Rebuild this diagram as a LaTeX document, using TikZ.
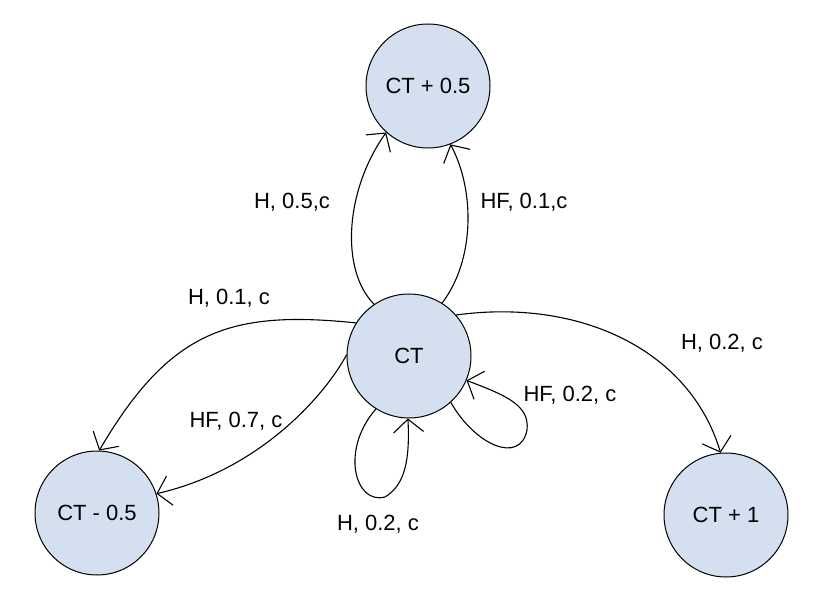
\documentclass[tikz,border=0pt]{standalone}
\usepackage{fontspec}
\setmainfont{Liberation Sans}
\usetikzlibrary{arrows.meta}
\definecolor{statefill}{RGB}{212,224,240}
\tikzset{
  state/.style={circle, draw=black, line width=1pt, fill=statefill, minimum size=124pt, inner sep=0pt, font=\fontsize{22}{25}\selectfont},
  lbl/.style={font=\fontsize{22}{25}\selectfont, inner sep=0pt},
  conn/.style={line width=1.1pt, line cap=round, -{Straight Barb[length=13pt,width=30pt,line width=1.1pt]}}
}
\begin{document}
\begin{tikzpicture}[x=1pt,y=-1pt]
\useasboundingbox (0,0) rectangle (822,612);
\node[state] (top) at (428,86) {CT + 0.5};
\node[state] (ct) at (409,356) {CT};
\node[state] (left) at (97,513) {CT - 0.5};
\node[state] (right) at (726,515) {CT + 1};

\draw[conn] (ct.124) .. controls (340,270) and (345,190) .. (top.-132);
\draw[conn] (ct.58) .. controls (475,260) and (475,190) .. (top.-69);
\draw[conn] (ct.148) .. controls (230,310) and (170,330) .. (left.88);
\draw[conn] (ct.179) .. controls (325,395) and (260,470) .. (left.18);
\draw[conn] (ct.238) .. controls (340,450) and (355,505) .. (385,497) .. controls (405,485) and (410,460) .. (ct.-91);
\draw[conn] (ct.-48) .. controls (475,445) and (520,465) .. (527,430) .. controls (530,405) and (505,395) .. (ct.-23);
\draw[conn] (ct.41) .. controls (580,298) and (690,350) .. (right.95);

\node[lbl] (l1) at (292,202) {H, 0.5,c};
\node[lbl] (l2) at (524,202) {HF, 0.1,c};
\node[lbl] (l3) at (229,298) {H, 0.1, c};
\node[lbl] (l4) at (236,421) {HF, 0.7, c};
\node[lbl] (l5) at (378,524) {H, 0.2, c};
\node[lbl] (l6) at (570,395) {HF, 0.2, c};
\node[lbl] (l7) at (722,343) {H, 0.2, c};
\end{tikzpicture}
\end{document}
